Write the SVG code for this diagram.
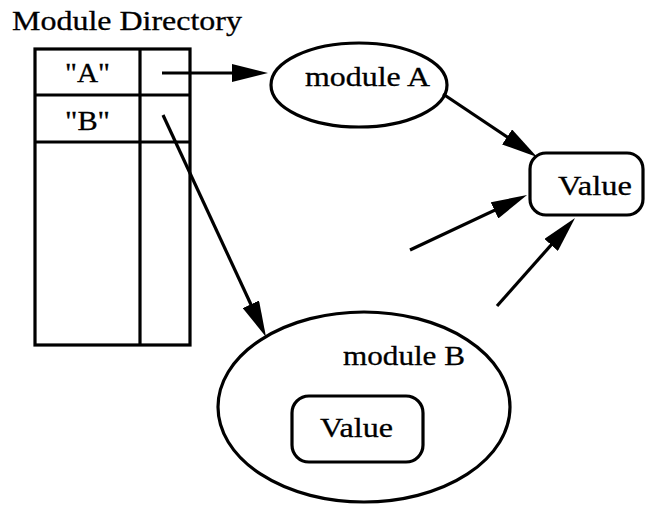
<svg xmlns="http://www.w3.org/2000/svg" width="651" height="506" viewBox="0 0 651 506">
  <style>
    .ln { fill: none; stroke: #000; stroke-width: 3.2; }
    .shape { fill: #fff; stroke: #000; stroke-width: 3.2; }
    .lbl { font-family: "Liberation Serif", "Times New Roman", serif; font-size: 27px; fill: #000; stroke: #000; stroke-width: 0.3; }
    .arr { fill: none; stroke: #000; stroke-width: 3.2; marker-end: url(#head); }
  </style>
  <defs>
    <marker id="head" markerUnits="userSpaceOnUse" viewBox="0 0 36 18" markerWidth="36" markerHeight="18" refX="26" refY="9" orient="auto">
      <path d="M0,0 L36,9 L0,18 Z" fill="#000"/>
    </marker>
  </defs>
  <rect width="651" height="506" fill="#fff"/>

  <g id="directory">
    <text class="lbl" x="12" y="30" textLength="230" lengthAdjust="spacingAndGlyphs">Module Directory</text>
    <rect class="shape" x="35" y="49" width="155" height="296"/>
    <line class="ln" x1="35" y1="95" x2="190" y2="95"/>
    <line class="ln" x1="35" y1="142" x2="190" y2="142"/>
    <line class="ln" x1="140" y1="49" x2="140" y2="345"/>
    <text class="lbl" x="65" y="82" textLength="45" lengthAdjust="spacingAndGlyphs">"A"</text>
    <text class="lbl" x="65" y="130" textLength="45" lengthAdjust="spacingAndGlyphs">"B"</text>
  </g>

  <g id="moduleA">
    <ellipse class="shape" cx="359" cy="85" rx="88" ry="42"/>
    <text class="lbl" x="305" y="86" textLength="125" lengthAdjust="spacingAndGlyphs">module A</text>
  </g>

  <g id="value">
    <rect class="shape" x="530" y="153" width="113" height="62" rx="16"/>
    <text class="lbl" x="558" y="195" textLength="74" lengthAdjust="spacingAndGlyphs">Value</text>
  </g>

  <g id="moduleB">
    <ellipse class="shape" cx="364" cy="407" rx="146" ry="95"/>
    <text class="lbl" x="343" y="365" textLength="122" lengthAdjust="spacingAndGlyphs">module B</text>
    <g id="moduleB-value">
      <rect class="shape" x="292" y="396" width="131" height="66" rx="17"/>
      <text class="lbl" x="320" y="437" textLength="73" lengthAdjust="spacingAndGlyphs">Value</text>
    </g>
  </g>

  <g id="connectors">
    <line class="arr" x1="162" y1="73" x2="258" y2="73"/>
    <line class="arr" x1="163" y1="115" x2="261.8" y2="327.9"/>
    <line class="arr" x1="443" y1="94" x2="528.7" y2="151.4"/>
    <line class="arr" x1="410" y1="250" x2="518" y2="199.3"/>
    <line class="arr" x1="497" y1="306" x2="568.4" y2="225.5"/>
  </g>
</svg>
